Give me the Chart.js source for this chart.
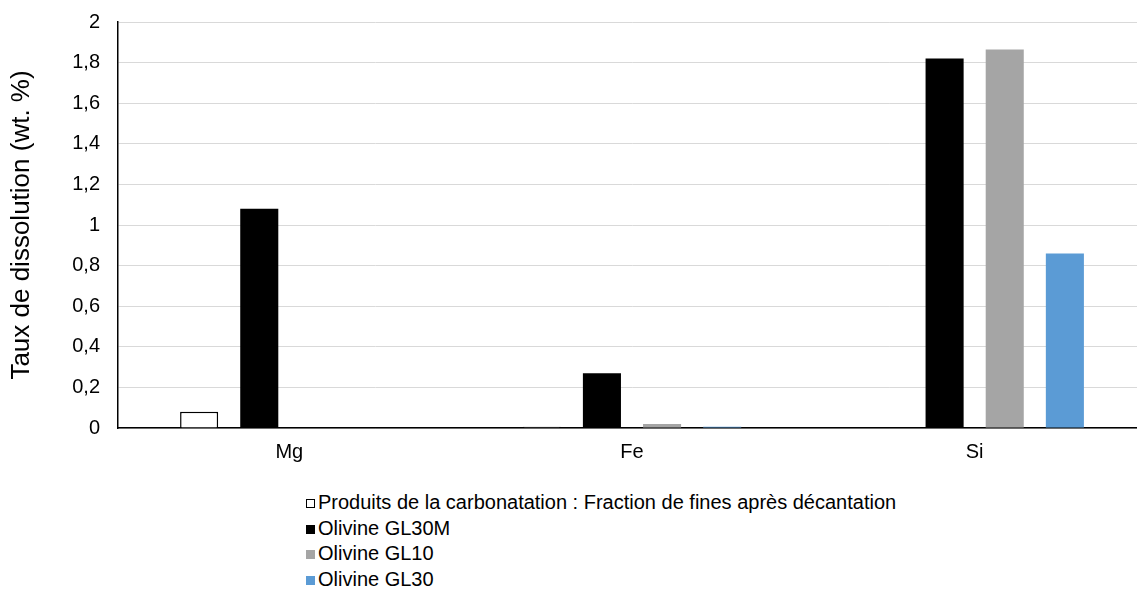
<!DOCTYPE html>
<html>
<head>
<meta charset="utf-8">
<script src="https://cdn.jsdelivr.net/npm/chart.js@4.4.1/dist/chart.umd.min.js"></script>
<style>
  html, body { margin: 0; padding: 0; background: #fff; overflow: hidden; }
  #wrap { position: relative; width: 1146px; height: 478px; margin-top: -8px; }
  #legend { position: absolute; left: 306px; top: 490px; font: 20px "Liberation Sans", Arial, sans-serif; color: #000; }
  #legend div { height: 25.5px; line-height: 25.5px; white-space: nowrap; }
  #legend span.box { display: inline-block; width: 9px; height: 9px; margin-right: 3px; vertical-align: 1px; box-sizing: border-box; }
</style>
</head>
<body>
<div id="wrap"><canvas id="chart" width="1146" height="478"></canvas></div>
<div id="legend"></div>
<script>
const categories = ["Mg", "Fe", "Si"];
const seriesNames = [
  "Produits de la carbonatation : Fraction de fines après décantation",
  "Olivine GL30M",
  "Olivine GL10",
  "Olivine GL30",
];
const finesValues = [0.08, 0.006, 0];
const gl30mValues = [1.08, 0.27, 1.82];
const gl10Values = [0, 0.02, 1.865];
const gl30Values = [0, 0.006, 0.86];
const yTicks = [0, 0.2, 0.4, 0.6, 0.8, 1, 1.2, 1.4, 1.6, 1.8, 2];

const fills = ["#ffffff", "#000000", "#a5a5a5", "#5b9bd5"];
const borders = ["#000000", "#000000", "#a5a5a5", "#5b9bd5"];
const allValues = [finesValues, gl30mValues, gl10Values, gl30Values];

const font = { family: "'Liberation Sans', Arial, sans-serif", size: 20 };
const titleFont = { family: "'Liberation Sans', Arial, sans-serif", size: 26 };

const chart = new Chart(document.getElementById("chart"), {
  type: "bar",
  data: {
    labels: categories,
    datasets: seriesNames.map((name, i) => ({
      label: name,
      data: allValues[i],
      backgroundColor: fills[i],
      borderColor: borders[i],
      borderWidth: i === 0 ? 1.5 : 0,
      categoryPercentage: 0.702,
      barPercentage: 0.633,
    })),
  },
  options: {
    responsive: false,
    animation: false,
    layout: { padding: { top: 10, right: 0, bottom: 0, left: 0 } },
    plugins: { legend: { display: false }, tooltip: { enabled: false } },
    scales: {
      x: {
        grid: { display: false },
        border: { color: "#000", width: 1.5 },
        ticks: { color: "#000", font: font, padding: 4 },
        afterFit: (s) => { s.height = 42; },
      },
      y: {
        min: 0,
        max: 2,
        afterBuildTicks: (s) => { s.ticks = yTicks.map((v) => ({ value: v })); },
        grid: { color: "#d9d9d9", lineWidth: 1, drawTicks: false },
        border: { color: "#000", width: 1.5 },
        ticks: {
          color: "#000",
          font: font,
          padding: 18,
          callback: (v) => String(v).replace(".", ","),
        },
        title: { display: true, text: "Taux de dissolution (wt. %)", color: "#000", font: titleFont, padding: { top: 6, bottom: 0 } },
        afterFit: (s) => { s.width = 118; },
      },
    },
  },
});

const legendEl = document.getElementById("legend");
legendEl.innerHTML = chart.data.datasets
  .map((d) => `<div><span class="box" style="background:${d.backgroundColor};border:1px solid ${d.backgroundColor === "#ffffff" ? "#000" : d.backgroundColor}"></span>${d.label}</div>`)
  .join("");
</script>
</body>
</html>
